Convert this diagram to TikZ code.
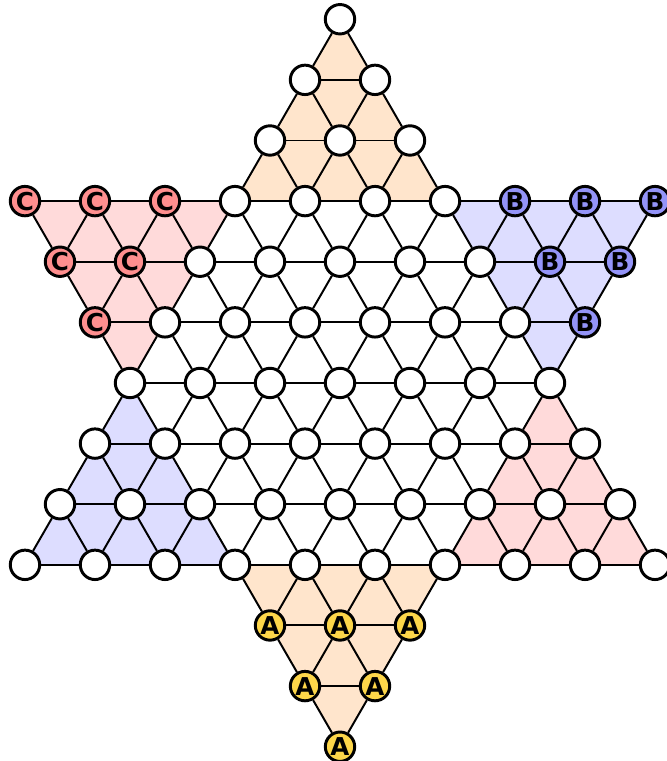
\documentclass[tikz,border=0pt]{standalone}
\usepackage{fontspec}
\setsansfont{DejaVu Sans}
\usetikzlibrary{backgrounds}

\definecolor{peach}{HTML}{FFE5CC}
\definecolor{rosy}{HTML}{FFDADA}
\definecolor{lilac}{HTML}{DDDDFF}
\definecolor{redpiece}{HTML}{FF8F8F}
\definecolor{bluepiece}{HTML}{9494F8}
\definecolor{goldpiece}{HTML}{FDD64A}

\tikzset{
  hole/.style={circle, draw=black, line width=1.2pt, fill=white, minimum size=0.42cm, inner sep=0pt},
  piece/.style={hole, font=\sffamily\bfseries\fontsize{10}{10}\selectfont},
  link/.style={line width=0.8pt},
}

\begin{document}
\begin{tikzpicture}
\useasboundingbox (-4.857,-5.4) rectangle (4.657,5.471);

% holes and pieces, row by row (r = row, w = half width in half steps)
\foreach \r/\w in {6/0,5/1,4/2,3/9,2/8,1/7,0/6,-1/7,-2/8,-3/9,-4/2,-5/1,-6/0} {
  \foreach \k in {0,...,\w} {
    \pgfmathtruncatemacro\X{-\w+2*\k}
    \pgfmathtruncatemacro\i{\r+6}
    \pgfmathtruncatemacro\c{\X+9}
    \pgfmathsetmacro\x{\X/2}
    \pgfmathsetmacro\y{\r*0.866}
    \pgfmathtruncatemacro\kind{(\r>0)*(\X<=\r-8)*1+(\r>0)*(\X>=8-\r)*2+(\r<-3)*3}
    \ifcase\kind
      \node[hole] (v\i-\c) at (\x,\y) {};
    \or
      \node[piece, fill=redpiece] (v\i-\c) at (\x,\y) {C};
    \or
      \node[piece, fill=bluepiece] (v\i-\c) at (\x,\y) {B};
    \or
      \node[piece, fill=goldpiece] (v\i-\c) at (\x,\y) {A};
    \fi
  }
}

% links to the right and to the row above (u = half width of the row above)
\foreach \r/\w/\u in {6/0/-1,5/1/0,4/2/1,3/9/2,2/8/9,1/7/8,0/6/7,-1/7/6,-2/8/7,-3/9/8,-4/2/9,-5/1/2,-6/0/1} {
  \foreach \k in {0,...,\w} {
    \pgfmathtruncatemacro\X{-\w+2*\k}
    \pgfmathtruncatemacro\i{\r+6}
    \pgfmathtruncatemacro\j{\r+7}
    \pgfmathtruncatemacro\c{\X+9}
    \pgfmathtruncatemacro\cr{\c+2}
    \pgfmathtruncatemacro\cl{\c-1}
    \pgfmathtruncatemacro\cu{\c+1}
    \pgfmathtruncatemacro\hasl{abs(\X-1)<=\u}
    \pgfmathtruncatemacro\hasr{abs(\X+1)<=\u}
    \ifnum\k<\w \draw[link] (v\i-\c) -- (v\i-\cr); \fi
    \ifnum\hasl=1 \draw[link] (v\i-\c) -- (v\j-\cl); \fi
    \ifnum\hasr=1 \draw[link] (v\i-\c) -- (v\j-\cu); \fi
  }
}

% the six points of the star
\begin{scope}[on background layer]
  \fill[peach] (v12-9.center) -- (v9-6.center) -- (v9-12.center) -- cycle;
  \fill[lilac] (v9-12.center) -- (v9-18.center) -- (v6-15.center) -- cycle;
  \fill[rosy] (v6-15.center) -- (v3-18.center) -- (v3-12.center) -- cycle;
  \fill[peach] (v3-12.center) -- (v0-9.center) -- (v3-6.center) -- cycle;
  \fill[lilac] (v3-6.center) -- (v3-0.center) -- (v6-3.center) -- cycle;
  \fill[rosy] (v6-3.center) -- (v9-0.center) -- (v9-6.center) -- cycle;
\end{scope}
\end{tikzpicture}
\end{document}
